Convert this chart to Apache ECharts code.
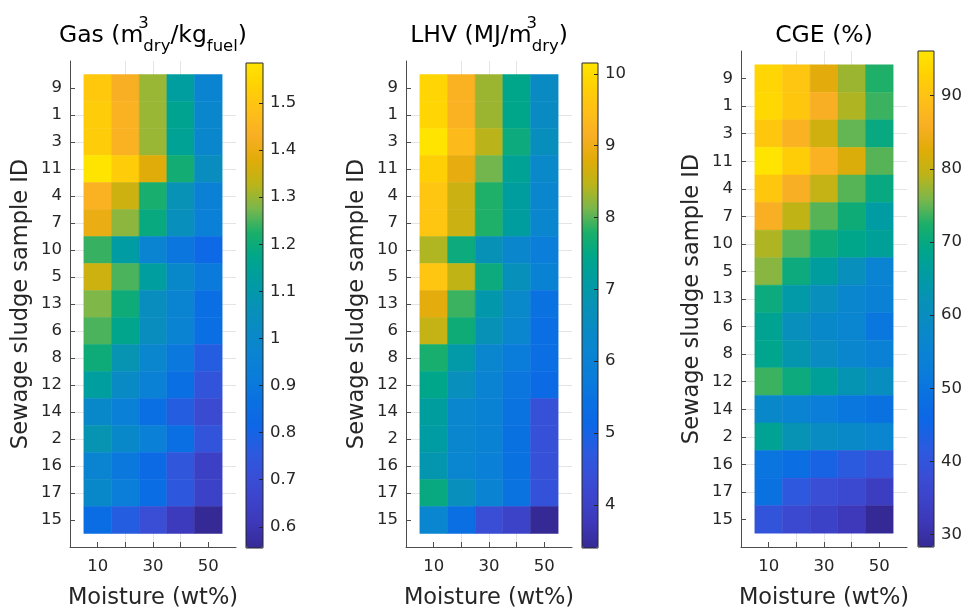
<!DOCTYPE html>
<html>
<head>
<meta charset="utf-8">
<script src="https://cdn.jsdelivr.net/npm/echarts@6/dist/echarts.min.js"></script>
<style>
html, body { margin: 0; background: #fff; }
#chart { width: 961px; height: 613px; }
</style>
</head>
<body>
<div id="chart"></div>
<script>
// rows top to bottom, columns = moisture 10..50 wt%
var sampleIds = ['9', '1', '3', '11', '4', '7', '10', '5', '13', '6', '8', '12', '14', '2', '16', '17', '15'];
var moisture = [10, 20, 30, 40, 50];
var moistureLabels = [10, 30, 50];

var gasValues = [
    [1.51, 1.43, 1.30, 1.13, 0.97],
    [1.52, 1.44, 1.30, 1.16, 0.99],
    [1.52, 1.44, 1.30, 1.15, 0.99],
    [1.585, 1.52, 1.38, 1.21, 1.04],
    [1.44, 1.35, 1.22, 1.07, 0.95],
    [1.40, 1.29, 1.19, 1.05, 0.94],
    [1.24, 1.12, 0.97, 0.89, 0.83],
    [1.35, 1.25, 1.13, 1.00, 0.91],
    [1.28, 1.20, 1.04, 0.97, 0.86],
    [1.25, 1.17, 1.04, 0.96, 0.86],
    [1.20, 1.08, 0.98, 0.90, 0.77],
    [1.13, 1.02, 0.95, 0.86, 0.73],
    [1.00, 0.94, 0.86, 0.77, 0.69],
    [1.08, 1.00, 0.94, 0.86, 0.73],
    [0.97, 0.90, 0.84, 0.74, 0.64],
    [1.00, 0.93, 0.85, 0.75, 0.65],
    [0.85, 0.77, 0.70, 0.62, 0.555]
];
var lhvValues = [
    [9.9, 9.2, 8.3, 7.45, 6.45],
    [9.9, 9.2, 8.3, 7.45, 6.45],
    [10.15, 9.4, 8.45, 7.6, 6.6],
    [9.8, 8.9, 8.1, 7.3, 6.3],
    [9.6, 8.6, 7.8, 7.15, 6.2],
    [9.6, 8.6, 7.8, 7.15, 6.2],
    [8.4, 7.6, 6.75, 6.25, 5.85],
    [9.6, 8.5, 7.6, 6.7, 6.0],
    [8.85, 7.9, 6.95, 6.3, 5.45],
    [8.55, 7.65, 6.75, 6.2, 5.4],
    [7.75, 7.0, 6.2, 5.75, 5.35],
    [7.45, 6.65, 6.05, 5.6, 5.25],
    [7.15, 6.2, 6.0, 5.5, 4.45],
    [7.1, 6.2, 6.0, 5.45, 4.45],
    [6.9, 6.15, 5.95, 5.45, 4.45],
    [7.55, 6.65, 6.1, 5.5, 4.5],
    [6.15, 5.4, 4.35, 4.05, 3.4]
];
var cgeValues = [
    [93.5, 90.5, 83, 77.5, 72.5],
    [94, 91, 86, 78.5, 73.5],
    [91, 86.5, 81, 75, 70],
    [96.1, 92, 86.5, 82, 74.5],
    [91, 86, 80, 74.5, 70],
    [86, 79.5, 74.5, 71, 65.5],
    [78.5, 74.5, 71, 69, 67],
    [76.5, 70.5, 66, 61, 55],
    [70.5, 64.5, 61, 56.5, 54],
    [68, 61, 57.5, 56, 50.5],
    [68.5, 63.5, 59.5, 56.5, 54],
    [73.5, 70.5, 67, 63, 60],
    [57.5, 55, 53, 50.5, 49],
    [67.5, 62.5, 59.5, 58, 56],
    [50, 48, 44, 41.5, 39.5],
    [49, 41, 38, 36.5, 33.5],
    [40, 36.5, 34.5, 32, 28.3]
];

var gasTicks = [0.6, 0.7, 0.8, 0.9, 1, 1.1, 1.2, 1.3, 1.4, 1.5];
var lhvTicks = [4, 5, 6, 7, 8, 9, 10];
var cgeTicks = [30, 40, 50, 60, 70, 80, 90];

// parula-like colour map
var parula = ['#352A95', '#3D38B8', '#3C44CA', '#384FD7', '#2A5BE0', '#0E66E6', '#0A70E2',
    '#0A7CDA', '#0A84D2', '#098AC4', '#0792B6', '#009CA2', '#00A68A', '#1AAF6A', '#7AB74C',
    '#BCB418', '#E0AC08', '#F9AF24', '#FEBF18', '#FFD004', '#FFE400'];

var FONT = 'DejaVu Sans';
var INK = '#262626';

var panels = [
    {
        values: gasValues, ticks: gasTicks,
        title: '{m|Gas (m}{sup|3}{sub|dry}{m|/kg}{sub|fuel}{m|)}',
        box: [70, 61, 166, 486], bar: [246, 63, 17, 485]
    },
    {
        values: lhvValues, ticks: lhvTicks,
        title: '{m|LHV (MJ/m}{sup|3}{sub|dry}{m|)}',
        box: [406, 61, 166, 486], bar: [582, 63, 16, 485]
    },
    {
        values: cgeValues, ticks: cgeTicks,
        title: '{m|CGE (%)}',
        box: [741, 51, 166, 496], bar: [918, 51, 16, 496]
    }
];

var halfStep = (moisture[1] - moisture[0]) / 2;

function renderCell(params, api) {
    var x = api.value(0), y = api.value(1);
    var p0 = api.coord([x - halfStep, y - 0.5]);
    var p1 = api.coord([x + halfStep, y + 0.5]);
    var color = api.visual('color');
    return {
        type: 'rect',
        shape: {
            x: Math.min(p0[0], p1[0]), y: Math.min(p0[1], p1[1]),
            width: Math.abs(p1[0] - p0[0]), height: Math.abs(p1[1] - p0[1])
        },
        style: { fill: color, stroke: color, lineWidth: 0.5 }
    };
}

var rowIndex = sampleIds.map(function (s, i) { return i; });
var labelStyle = { color: INK, fontFamily: FONT, fontSize: 16.5 };

var option = {
    animation: false,
    backgroundColor: '#fff',
    grid: [], xAxis: [], yAxis: [], series: [], visualMap: [], graphic: []
};

panels.forEach(function (p, i) {
    var flat = [].concat.apply([], p.values);
    var lo = Math.min.apply(null, flat), hi = Math.max.apply(null, flat);
    var data = [];
    p.values.forEach(function (row, r) {
        row.forEach(function (v, c) { data.push([moisture[c], r, v]); });
    });

    var g = option.grid.length;
    option.grid.push({
        left: p.box[0], top: p.box[1], width: p.box[2], height: p.box[3],
        outerBoundsMode: 'none', containLabel: false
    });
    option.xAxis.push({
        gridIndex: g, type: 'value', min: 0, max: 60, interval: 10,
        name: 'Moisture (wt%)', nameLocation: 'middle', nameGap: 40,
        nameTextStyle: { color: INK, fontFamily: FONT, fontSize: 22.5 },
        axisLine: { show: true, onZero: false, lineStyle: { color: '#4d4d4d', width: 1 } },
        axisTick: { show: true, inside: true, length: 5, customValues: moisture, lineStyle: { color: '#4d4d4d' } },
        axisLabel: Object.assign({ customValues: moistureLabels, margin: 11 }, labelStyle),
        splitLine: { show: true, showMinLine: false, showMaxLine: false, lineStyle: { color: '#e4e4e4', width: 1 } }
    });
    option.yAxis.push({
        gridIndex: g, type: 'value', min: -1, max: 17, interval: 1, inverse: true,
        name: 'Sewage sludge sample ID', nameLocation: 'middle', nameGap: 37,
        nameTextStyle: { color: INK, fontFamily: FONT, fontSize: 22.5 },
        axisLine: { show: true, onZero: false, lineStyle: { color: '#4d4d4d', width: 1 } },
        axisTick: { show: true, inside: true, length: 5, customValues: rowIndex, lineStyle: { color: '#4d4d4d' } },
        axisLabel: Object.assign({
            customValues: rowIndex, margin: 8,
            formatter: function (v) { return sampleIds[v] || ''; }
        }, labelStyle),
        splitLine: { show: true, showMinLine: false, showMaxLine: false, lineStyle: { color: '#e4e4e4', width: 1 } }
    });
    option.series.push({
        type: 'custom', xAxisIndex: g, yAxisIndex: g,
        encode: { x: 0, y: 1 }, data: data, renderItem: renderCell, silent: true
    });
    option.visualMap.push({
        type: 'continuous', seriesIndex: i, dimension: 2, min: lo, max: hi,
        left: p.bar[0], top: p.bar[1], itemWidth: p.bar[2], itemHeight: p.bar[3],
        padding: 0, calculable: false, hoverLink: false, inRange: { color: parula }
    });

    // colorbar frame and tick labels
    option.grid.push({
        left: p.bar[0], top: p.bar[1], width: p.bar[2], height: p.bar[3],
        show: true, borderColor: INK, borderWidth: 1, z: 10,
        outerBoundsMode: 'none', containLabel: false
    });
    option.xAxis.push({ gridIndex: g + 1, type: 'value', show: false, axisLine: { onZero: false } });
    option.yAxis.push({
        gridIndex: g + 1, type: 'value', min: lo, max: hi, position: 'right', z: 10,
        axisLine: { show: false, onZero: false },
        axisTick: { show: true, inside: true, length: 4, customValues: p.ticks, lineStyle: { color: INK } },
        axisLabel: Object.assign({
            customValues: p.ticks, margin: 7,
            formatter: function (v) { return String(+(+v).toFixed(2)); }
        }, labelStyle),
        splitLine: { show: false }
    });

    option.graphic.push({
        type: 'text', x: p.box[0] + p.box[2] / 2, y: 35.5, z: 20,
        style: {
            text: p.title, align: 'center', verticalAlign: 'middle', fill: '#000',
            rich: {
                m: { fontFamily: FONT, fontSize: 23.5, fill: '#000', lineHeight: 40, verticalAlign: 'middle' },
                sup: { fontFamily: FONT, fontSize: 16.5, fill: '#000', lineHeight: 24, verticalAlign: 'top', width: 0 },
                sub: { fontFamily: FONT, fontSize: 16.5, fill: '#000', lineHeight: 16, verticalAlign: 'bottom' }
            }
        }
    });
});

var chart = echarts.init(document.getElementById('chart'));
chart.setOption(option);
</script>
</body>
</html>
